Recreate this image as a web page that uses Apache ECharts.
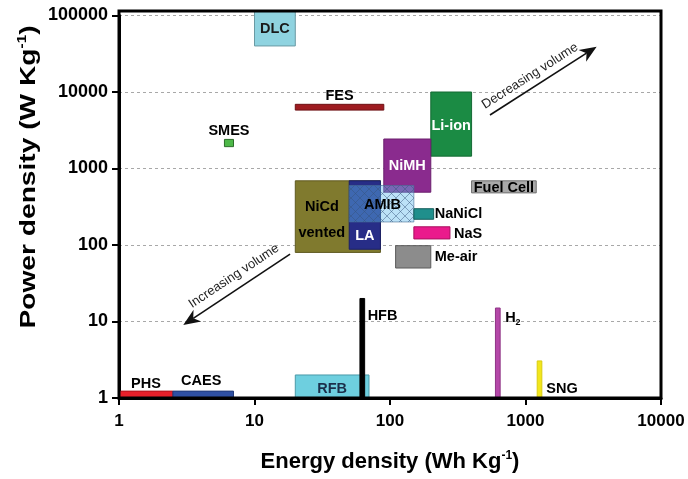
<!DOCTYPE html>
<html><head><meta charset="utf-8">
<script src="https://cdn.jsdelivr.net/npm/echarts@6/dist/echarts.min.js"></script>
<style>html,body{margin:0;padding:0;background:#fff}#c{width:688px;height:479px}</style>
</head><body><div id="c"></div>
<script>
// ---------- data ----------
const techNames = ['DLC','FES','SMES','Li-ion','NiMH','NiCd','LA','AMIB','NaNiCl','NaS','Me-air','Fuel Cell','PHS','CAES','RFB','HFB','H2','SNG'];
const energyMin = [10, 20, 6, 200, 90, 20, 50, 50, 150, 150, 110, 400, 1, 2.5, 20, 60, 600, 1220];
const energyMax = [20, 90, 7, 400, 200, 85, 85, 150, 210, 277, 200, 1200, 2.5, 7, 70, 65, 650, 1320];
const powerMin  = [40000, 5800, 1930, 1450, 490, 80, 88, 200, 217, 120, 50, 480, 1, 1, 1, 1, 1, 1];
const powerMax  = [115000, 6900, 2400, 10000, 2430, 690, 690, 600, 298, 173, 98, 690, 1.23, 1.23, 2, 20, 15, 3.05];

const xTicks = [1, 10, 100, 1000, 10000];
const yTicks = [1, 10, 100, 1000, 10000, 100000];

const arrowTexts = ['Decreasing volume', 'Increasing volume'];
const arrowFrom  = [[547, 5000], [18.3, 76]];
const arrowTo    = [[3350, 39100], [2.98, 9.0]];

// ---------- styles ----------
const FONT = '"Liberation Sans", Arial, sans-serif';
const boxStyle = {
  'DLC':      {fill:'#8fd3e0', stroke:'#6a9aa4'},
  'FES':      {fill:'#9e1b20', stroke:'#6e1014'},
  'SMES':     {fill:'#4db848', stroke:'#2c6e2a'},
  'Li-ion':   {fill:'#1b8b44', stroke:'#146a33'},
  'NiMH':     {fill:'#8a2b8e', stroke:'#6a1f6d'},
  'NiCd':     {fill:'#807a2e', stroke:'#5f5a20'},
  'LA':       {fill:'#272d87', stroke:'#1c2066'},
  'AMIB':     {fill:'rgba(95,185,235,0.42)', stroke:'rgba(70,110,150,0.6)', hatch:true},
  'NaNiCl':   {fill:'#1f8f8c', stroke:'#145e5c'},
  'NaS':      {fill:'#ea1a8c', stroke:'#a8105f'},
  'Me-air':   {fill:'#8c8c8c', stroke:'#5c5c5c'},
  'Fuel Cell':{fill:'#a9a9a9', stroke:'#707070'},
  'PHS':      {fill:'#e8202a', stroke:'#b0141c'},
  'CAES':     {fill:'#2f50a3', stroke:'#223a78'},
  'RFB':      {fill:'#6ecfdf', stroke:'#4a9aa8'},
  'HFB':      {fill:'#000000', stroke:'#000000'},
  'H2':       {fill:'#b447a8', stroke:'#8e3385'},
  'SNG':      {fill:'#f2e61c', stroke:'#d8cc10'}
};
// label placement: ax 'c' (box centre) or 'r' (right edge); ay 'c','t','b'
const labelCfg = {
  'DLC':      {ax:'c', ay:'c', dx:0, dy:1, color:'#1a1a1a'},
  'FES':      {ax:'c', ay:'t', dx:0, dy:-8},
  'SMES':     {ax:'c', ay:'t', dx:0, dy:-8.5},
  'Li-ion':   {ax:'c', ay:'c', dx:0, dy:1.5, color:'#ffffff'},
  'NiMH':     {ax:'c', ay:'c', dx:0, dy:0, color:'#ffffff'},
  'NiCd':     {ax:'c', ay:'c', dx:-16, dy:3.6, text:'NiCd\nvented', lh:26},
  'LA':       {ax:'c', ay:'c', dx:0, dy:21, color:'#ffffff'},
  'AMIB':     {ax:'c', ay:'c', dx:1, dy:1},
  'NaNiCl':   {ax:'r', ay:'c', dx:1, dy:0},
  'NaS':      {ax:'r', ay:'c', dx:4, dy:1.4},
  'Me-air':   {ax:'r', ay:'c', dx:4, dy:0},
  'Fuel Cell':{ax:'c', ay:'c', dx:0, dy:1},
  'PHS':      {ax:'c', ay:'t', dx:0, dy:-7},
  'CAES':     {ax:'c', ay:'t', dx:-2, dy:-10},
  'RFB':      {ax:'c', ay:'c', dx:0, dy:3, color:'#1b2f4a'},
  'HFB':      {ax:'r', ay:'t', dx:3, dy:18},
  'H2':       {ax:'r', ay:'t', dx:5, dy:10, rich:true},
  'SNG':      {ax:'r', ay:'b', dx:4.5, dy:-9}
};
const arrowLayout = [{along:-8.6, normal:11.2}, {along:5.2, normal:12.7}];

const rows = techNames.map((n, i) => [energyMin[i], energyMax[i], powerMin[i], powerMax[i]]);
const arrowRows = arrowFrom.map((f, i) => [f[0], f[1], arrowTo[i][0], arrowTo[i][1]]);

function boxPx(api) {
  const p0 = api.coord([api.value(0), api.value(2)]);
  const p1 = api.coord([api.value(1), api.value(3)]);
  return {x0: p0[0], x1: p1[0], y0: p1[1], y1: p0[1]};
}

function hatchLines(b, step, style) {
  const out = [];
  const {x0, x1, y0, y1} = b;
  for (let c = Math.ceil((x0 + y0) / step) * step; c < x1 + y1; c += step) {
    const xa = Math.max(x0, c - y1), xb = Math.min(x1, c - y0);
    if (xb > xa) out.push({type:'line', shape:{x1:xa, y1:c - xa, x2:xb, y2:c - xb}, style});
  }
  for (let c = Math.ceil((y0 - x1) / step) * step; c < y1 - x0; c += step) {
    const xa = Math.max(x0, y0 - c), xb = Math.min(x1, y1 - c);
    if (xb > xa) out.push({type:'line', shape:{x1:xa, y1:xa + c, x2:xb, y2:xb + c}, style});
  }
  return out;
}

const chart = echarts.init(document.getElementById('c'), null, {renderer:'canvas'});

const option = {
  backgroundColor: '#ffffff',
  animation: false,
  grid: {left:119, right:27, top:15.5, bottom:81},
  xAxis: {
    type:'log', logBase:10, min:xTicks[0], max:xTicks[xTicks.length-1],
    axisLine:{show:true, lineStyle:{color:'#000', width:3}},
    axisTick:{show:true, length:7, lineStyle:{color:'#000', width:2}},
    minorTick:{show:false},
    axisLabel:{margin:15, color:'#000', fontSize:17, fontWeight:'bold', fontFamily:FONT,
      formatter: v => String(Math.round(v))},
    splitLine:{show:false},
    name:'{t|Energy density (Wh Kg}{s|-1}{t|)}',
    nameLocation:'middle', nameGap:52,
    nameTextStyle:{rich:{
      t:{fontSize:22, fontWeight:'bold', fontFamily:FONT, color:'#000'},
      s:{fontSize:12, fontWeight:'bold', fontFamily:FONT, color:'#000', padding:[0,0,12,0]}
    }}
  },
  yAxis: {
    type:'log', logBase:10, min:yTicks[0], max:yTicks[yTicks.length-1],
    axisLine:{show:true, lineStyle:{color:'#000', width:3}},
    axisTick:{show:true, length:7, lineStyle:{color:'#000', width:2}},
    minorTick:{show:false},
    axisLabel:{margin:11, color:'#000', fontSize:18, fontWeight:'bold', fontFamily:FONT,
      formatter: v => String(Math.round(v))},
    splitLine:{show:true, lineStyle:{color:'#a8a8a8', width:1, type:[3,3]}}
  },
  graphic: [
    {type:'rect', z:100, shape:{x:119, y:11, width:542, height:387},
      style:{fill:null, stroke:'#000', lineWidth:3}},
    {type:'text', x:29, y:177, rotation:Math.PI/2, scaleX:1.28, z:100,
      style:{text:'{t|Power density (W Kg}{s|-1}{t|)}', align:'center', verticalAlign:'middle',
        rich:{
          t:{fontSize:22, fontWeight:'bold', fontFamily:FONT, fill:'#000'},
          s:{fontSize:12, fontWeight:'bold', fontFamily:FONT, fill:'#000', padding:[0,0,12,0]}
        }}}
  ],
  series: [
    {
      type:'custom', name:'boxes', coordinateSystem:'cartesian2d', clip:false, z:2,
      encode:{x:[0,1], y:[2,3]},
      data: rows,
      renderItem(params, api) {
        const name = techNames[params.dataIndex];
        const st = boxStyle[name];
        const b = boxPx(api);
        const children = [{type:'rect', shape:{x:b.x0, y:b.y0, width:b.x1-b.x0, height:b.y1-b.y0},
          style:{fill:st.fill, stroke:st.stroke, lineWidth:1}}];
        if (st.hatch) {
          hatchLines(b, 9, {stroke:'rgba(55,85,125,0.6)', lineWidth:0.8}).forEach(l => children.push(l));
        }
        return {type:'group', children};
      }
    },
    {
      type:'custom', name:'labels', coordinateSystem:'cartesian2d', clip:false, z:5,
      encode:{x:[0,1], y:[2,3]},
      data: rows,
      renderItem(params, api) {
        const name = techNames[params.dataIndex];
        const cfg = labelCfg[name];
        const b = boxPx(api);
        let x, y, align;
        if (cfg.ax === 'r') { x = b.x1 + cfg.dx; align = 'left'; }
        else { x = (b.x0 + b.x1) / 2 + cfg.dx; align = 'center'; }
        if (cfg.ay === 't') y = b.y0 + cfg.dy;
        else if (cfg.ay === 'b') y = b.y1 + cfg.dy;
        else y = (b.y0 + b.y1) / 2 + cfg.dy;
        const style = {x:0, y:0, align, verticalAlign:'middle', fill:cfg.color || '#000',
          fontSize:14.5, fontWeight:'bold', fontFamily:FONT, text: cfg.text || name};
        if (cfg.lh) style.lineHeight = cfg.lh;
        if (cfg.rich) {
          style.text = '{m|H}{s|2}';
          style.rich = {
            m:{fontSize:14.5, fontWeight:'bold', fontFamily:FONT, fill:'#000'},
            s:{fontSize:9, fontWeight:'bold', fontFamily:FONT, fill:'#000', padding:[9,0,0,0]}
          };
        }
        return {type:'text', x, y, style};
      }
    },
    {
      type:'custom', name:'arrows', coordinateSystem:'cartesian2d', clip:false, z:6,
      encode:{x:[0,2], y:[1,3]},
      data: arrowRows,
      renderItem(params, api) {
        const i = params.dataIndex;
        const p1 = api.coord([api.value(0), api.value(1)]);
        const p2 = api.coord([api.value(2), api.value(3)]);
        const dx = p2[0] - p1[0], dy = p2[1] - p1[1];
        const len = Math.hypot(dx, dy);
        const ux = dx / len, uy = dy / len;
        const px = -uy, py = ux;
        const hl = 17, hw = 7, notch = 12;
        const tip = p2;
        const baseX = tip[0] - ux * hl, baseY = tip[1] - uy * hl;
        const head = [tip,
          [baseX + px * hw, baseY + py * hw],
          [tip[0] - ux * notch, tip[1] - uy * notch],
          [baseX - px * hw, baseY - py * hw]];
        const lineEnd = [tip[0] - ux * notch, tip[1] - uy * notch];
        let rx = ux, ry = uy;
        if (rx < 0) { rx = -rx; ry = -ry; }
        const nx = ry, ny = -rx;
        const mx = (p1[0] + p2[0]) / 2, my = (p1[1] + p2[1]) / 2;
        const L = arrowLayout[i];
        const tx = mx + rx * L.along + nx * L.normal;
        const ty = my + ry * L.along + ny * L.normal;
        return {type:'group', children:[
          {type:'line', shape:{x1:p1[0], y1:p1[1], x2:lineEnd[0], y2:lineEnd[1]},
            style:{stroke:'#111', lineWidth:1.6}},
          {type:'polygon', shape:{points:head}, style:{fill:'#111'}},
          {type:'text', x:tx, y:ty, rotation:-Math.atan2(ry, rx),
            style:{text:arrowTexts[i], x:0, y:0, align:'center', verticalAlign:'middle',
              fill:'#222', fontSize:13, fontFamily:FONT}}
        ]};
      }
    }
  ]
};
chart.setOption(option);
</script>
</body></html>
